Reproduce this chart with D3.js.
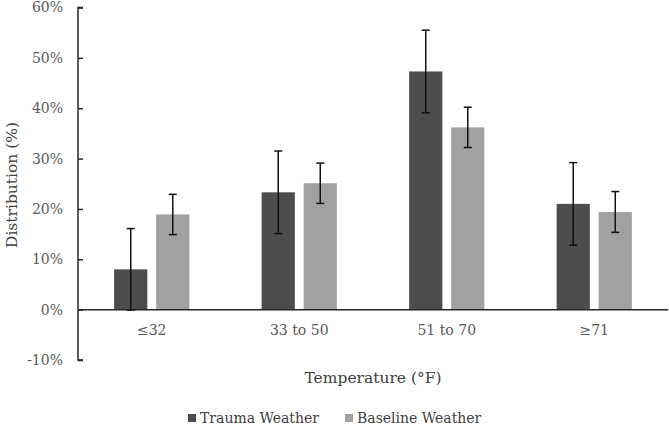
<!DOCTYPE html>
<html><head><meta charset="utf-8">
<script src="https://cdn.jsdelivr.net/npm/d3@7"></script>
<style>body{margin:0;background:#fff}svg{display:block}text{font-family:"DejaVu Serif","Liberation Serif",serif}</style>
</head><body><svg id="c" width="669" height="428"></svg>
<script>
const categories = ["≤32", "33 to 50", "51 to 70", "≥71"];
const seriesNames = ["Trauma Weather", "Baseline Weather"];
const trauma = [8.0, 23.3, 47.3, 21.0];
const baseline = [18.9, 25.1, 36.2, 19.4];
const traumaErr = [8.1, 8.2, 8.2, 8.2];
const baselineErr = [4.0, 4.0, 4.0, 4.05];
const yTicks = [-10, 0, 10, 20, 30, 40, 50, 60];
const colors = ["#4d4d4d", "#a1a1a1"];

const svg = d3.select("#c");
const x0 = d3.scaleBand().domain(categories).range([78, 668]).paddingInner(0.49).paddingOuter(0.245);
const x1 = d3.scaleBand().domain(seriesNames).range([0, x0.bandwidth()]).paddingInner(0.21);
const y = d3.scaleLinear().domain([-10, 60]).range([360, 7.5]);

const yAxis = d3.axisLeft(y).tickValues(yTicks).tickSize(-5).tickFormat(d => d + "%");
const gy = svg.append("g").attr("transform", "translate(78,0)").call(yAxis);
gy.select(".domain").attr("stroke", "#262626").attr("stroke-width", 1.5).attr("d", `M5,${y(60)}H0V${y(-10)}H5`);
gy.selectAll(".tick line").attr("stroke", "#262626").attr("stroke-width", 1.5);
gy.selectAll(".tick text").attr("fill", "#595959").style("font-size", "14px").attr("x", -15);

const data = categories.map((c, i) => ({c, vals: [
  {s: seriesNames[0], v: trauma[i], e: traumaErr[i]},
  {s: seriesNames[1], v: baseline[i], e: baselineErr[i]}]}));

const g = svg.append("g");
const groups = g.selectAll("g.cat").data(data).join("g").attr("transform", d => `translate(${x0(d.c)},0)`);
groups.selectAll("rect").data(d => d.vals).join("rect")
  .attr("x", d => x1(d.s)).attr("width", x1.bandwidth())
  .attr("y", d => y(Math.max(0, d.v))).attr("height", d => Math.abs(y(d.v) - y(0)))
  .attr("fill", (d, i) => colors[i]);

// x axis line
svg.append("line").attr("x1", 78).attr("x2", 668).attr("y1", y(0)).attr("y2", y(0)).attr("stroke", "#262626").attr("stroke-width", 1.5);

// error bars
const eb = groups.selectAll("g.err").data(d => d.vals).join("g").attr("class", "err");
eb.append("line").attr("x1", d => x1(d.s) + x1.bandwidth() / 2).attr("x2", d => x1(d.s) + x1.bandwidth() / 2)
  .attr("y1", d => y(d.v + d.e)).attr("y2", d => y(d.v - d.e)).attr("stroke", "#111").attr("stroke-width", 1.5);
eb.append("line").attr("x1", d => x1(d.s) + x1.bandwidth() / 2 - 4).attr("x2", d => x1(d.s) + x1.bandwidth() / 2 + 4)
  .attr("y1", d => y(d.v + d.e)).attr("y2", d => y(d.v + d.e)).attr("stroke", "#111").attr("stroke-width", 1.5);
eb.append("line").attr("x1", d => x1(d.s) + x1.bandwidth() / 2 - 4).attr("x2", d => x1(d.s) + x1.bandwidth() / 2 + 4)
  .attr("y1", d => y(d.v - d.e)).attr("y2", d => y(d.v - d.e)).attr("stroke", "#111").attr("stroke-width", 1.5);

// category labels
svg.append("g").selectAll("text").data(categories).join("text")
  .attr("x", d => x0(d) + x0.bandwidth() / 2).attr("y", 335).attr("text-anchor", "middle")
  .attr("fill", "#595959").style("font-size", "14px").text(d => d);

// axis titles
svg.append("text").attr("x", 373).attr("y", 383).attr("text-anchor", "middle").attr("fill", "#404040")
  .style("font-size", "15.5px").text("Temperature (°F)");
svg.append("text").attr("transform", "translate(17,185) rotate(-90)").attr("text-anchor", "middle").attr("fill", "#404040")
  .style("font-size", "15.5px").text("Distribution (%)");

// legend
const lx = [188, 345];
const leg = svg.append("g").selectAll("g").data(seriesNames).join("g").attr("transform", (d, i) => `translate(${lx[i]},0)`);
leg.append("rect").attr("x", 0).attr("y", 414).attr("width", 8).attr("height", 8).attr("fill", (d, i) => colors[i]);
leg.append("text").attr("x", 12).attr("y", 423).attr("fill", "#404040").style("font-size", "14px").text(d => d);
</script></body></html>
